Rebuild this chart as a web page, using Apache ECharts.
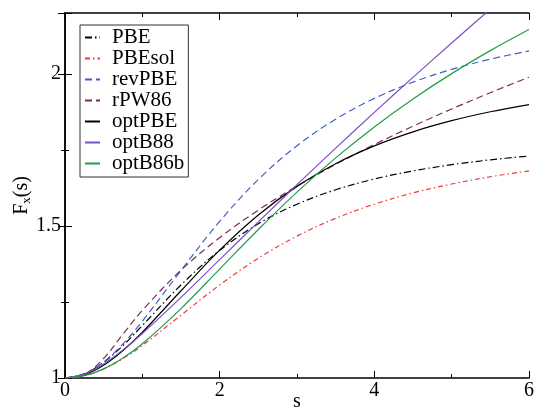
<!DOCTYPE html>
<html>
<head>
<meta charset="utf-8">
<script src="https://cdn.jsdelivr.net/npm/echarts@6/dist/echarts.min.js"></script>
<style>
  html, body { margin: 0; padding: 0; background: #fff; }
  #chart { width: 535px; height: 410px; }
</style>
</head>
<body>
<div id="chart"></div>
<script>
// reduced gradient s
const sValues = [0, 0.25, 0.5, 0.75, 1, 1.5, 2, 2.5, 3, 3.5, 4, 4.5, 5, 5.5, 6];

// enhancement factor Fx(s) for each functional
const pbe     = [1, 1.0135, 1.0514, 1.1070, 1.1724, 1.3059, 1.4197, 1.5069, 1.5714, 1.6189, 1.6542, 1.6808, 1.7013, 1.7172, 1.7298];
const pbesol  = [1, 1.0076, 1.0297, 1.0639, 1.1070, 1.2065, 1.3059, 1.3937, 1.4665, 1.5249, 1.5714, 1.6084, 1.6378, 1.6616, 1.6808];
const revpbe  = [1, 1.0136, 1.0526, 1.1123, 1.1866, 1.3536, 1.5149, 1.6527, 1.7637, 1.8510, 1.9192, 1.9726, 2.0148, 2.0484, 2.0755];
const rpw86   = [1, 1.0113, 1.0644, 1.1443, 1.2224, 1.3545, 1.4614, 1.5519, 1.6312, 1.7024, 1.7676, 1.8279, 1.8845, 1.9380, 1.9889];
const optpbe  = [1, 1.0109, 1.0421, 1.0902, 1.1503, 1.2868, 1.4204, 1.5360, 1.6300, 1.7046, 1.7632, 1.8094, 1.8460, 1.8753, 1.8989];
const optb88  = [1, 1.0129, 1.0462, 1.0924, 1.1462, 1.2651, 1.3891, 1.5132, 1.6356, 1.7556, 1.8732, 1.9885, 2.1015, 2.2125, 2.3217];
const optb86b = [1, 1.0077, 1.0301, 1.0658, 1.1124, 1.2282, 1.3581, 1.4882, 1.6110, 1.7236, 1.8255, 1.9175, 2.0007, 2.0763, 2.1455];

const xTickLabels = ['0', '2', '4', '6'];
const yTickLabels = ['1', '1.5', '2'];

const font = 'Liberation Serif';

const curves = [
  { name: 'PBE',     data: pbe,     color: '#000000', type: [7, 3, 1.5, 3] },
  { name: 'PBEsol',  data: pbesol,  color: '#f03a3a', type: [5, 3, 1.5, 3] },
  { name: 'revPBE',  data: revpbe,  color: '#3f62c4', type: [7, 4] },
  { name: 'rPW86',   data: rpw86,   color: '#7a2c5c', type: [7, 4] },
  { name: 'optPBE',  data: optpbe,  color: '#000000', type: 'solid' },
  { name: 'optB88',  data: optb88,  color: '#7b4fc6', type: 'solid' },
  { name: 'optB86b', data: optb86b, color: '#1f9e4a', type: 'solid' }
];

const series = curves.map((c) => {
  return {
    name: c.name,
    type: 'line',
    data: sValues.map((s, i) => [s, c.data[i]]),
    smooth: 0.35,
    symbol: 'none',
    clip: true,
    lineStyle: { color: c.color, width: 1.2, type: c.type },
    itemStyle: { color: c.color }
  };
});

const axisLine = { show: true, lineStyle: { color: '#000', width: 1.5 } };
const tick = { inside: true, length: 7, lineStyle: { color: '#000' } };
const minor = { show: true, splitNumber: 2, length: 4, lineStyle: { color: '#000' } };

const chart = echarts.init(document.getElementById('chart'));
chart.setOption({
  animation: false,
  backgroundColor: '#fff',
  grid: { left: 65, right: 6, top: 13, bottom: 32, outerBoundsMode: 'none', containLabel: false },
  legend: {
    orient: 'vertical',
    left: 80,
    top: 25,
    padding: [2, 4, 3, 4],
    itemWidth: 15,
    itemHeight: 10,
    itemGap: 0,
    backgroundColor: '#fff',
    borderColor: '#333',
    borderWidth: 1,
    z: 10,
    itemStyle: { opacity: 0 },
    textStyle: { fontFamily: font, fontSize: 21, color: '#000', lineHeight: 21, padding: [0, 0, 0, 7] },
    data: curves.map((c) => c.name)
  },
  xAxis: [
    {
      type: 'value', min: 0, max: 6, interval: 2,
      name: 's', nameLocation: 'middle', nameGap: 14, nameMoveOverlap: false,
      nameTextStyle: { fontFamily: font, fontSize: 20, color: '#000', lineHeight: 20 },
      axisLine: axisLine,
      axisTick: tick,
      minorTick: minor,
      splitLine: { show: false },
      axisLabel: {
        fontFamily: font, fontSize: 20, color: '#000', margin: 3,
        formatter: (v) => xTickLabels[Math.round(v / 2)]
      }
    },
    {
      type: 'value', min: 0, max: 6, interval: 2, position: 'top',
      axisLine: axisLine,
      axisTick: tick,
      minorTick: minor,
      splitLine: { show: false },
      axisLabel: { show: false }
    }
  ],
  yAxis: [
    {
      type: 'value', min: 1, max: 2.2, interval: 0.5,
      name: '{a|F}{b|x}{a|(s)}', nameLocation: 'middle', nameGap: 32, nameMoveOverlap: false,
      nameTextStyle: {
        rich: {
          a: { fontFamily: font, fontSize: 20, color: '#000' },
          b: { fontFamily: font, fontSize: 13, color: '#000', padding: [10, 0, 0, 0] }
        }
      },
      axisLine: axisLine,
      axisTick: tick,
      minorTick: minor,
      splitLine: { show: false },
      axisLabel: {
        fontFamily: font, fontSize: 20, color: '#000', margin: 4, showMaxLabel: false,
        formatter: (v) => {
          const k = (v - 1) / 0.5;
          return Math.abs(k - Math.round(k)) < 1e-6 ? yTickLabels[Math.round(k)] : '';
        }
      }
    },
    {
      type: 'value', min: 1, max: 2.2, interval: 0.5, position: 'right',
      axisLine: axisLine,
      axisTick: tick,
      minorTick: minor,
      splitLine: { show: false },
      axisLabel: { show: false }
    }
  ],
  series: series
});
</script>
</body>
</html>
